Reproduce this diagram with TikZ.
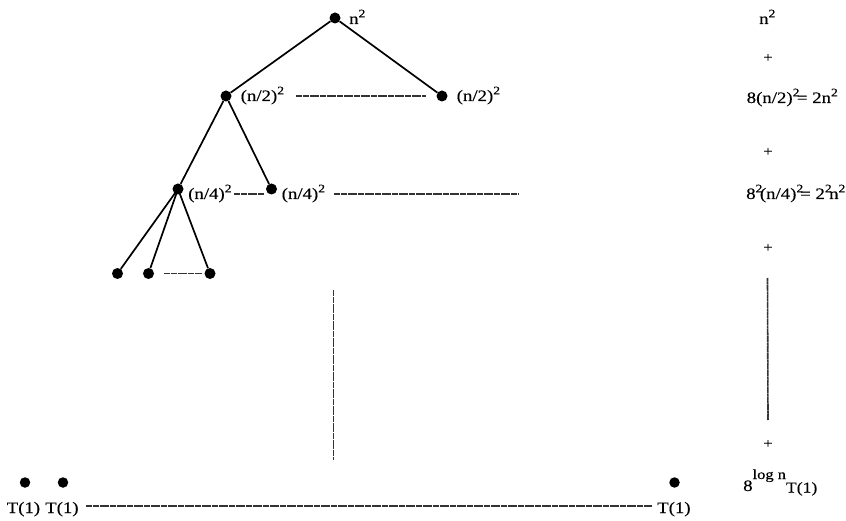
\documentclass[tikz,border=0pt]{standalone}
\usepackage{fontspec}
\setmainfont{Liberation Serif}[FakeStretch=1.18,FakeBold=0.3]
\newcommand\sq[1]{\raisebox{0.42em}{\fontsize{11.5}{11.5}\selectfont #1}}
\begin{document}
\begin{tikzpicture}[x=1bp,y=-1bp,
  dot/.style={circle,fill=black,inner sep=0pt,minimum size=11bp},
  sdot/.style={circle,fill=black,inner sep=0pt,minimum size=10.5bp},
  edge/.style={line width=1.7bp,black},
  dots/.style={line width=1.6bp,black!80,dash pattern=on 3bp off 0.4bp},
  lbl/.style={anchor=base west,inner sep=0pt,font=\fontsize{16}{16}\selectfont},
  plus/.style={inner sep=0pt,font=\fontsize{14}{14}\selectfont}]
\useasboundingbox (0,0) rectangle (846,521);

% recursion tree
\node[dot] (r)   at (335,18) {};
\node[dot] (a)   at (226,96) {};
\node[dot] (b)   at (442,96) {};
\node[dot] (c)   at (178,189) {};
\node[dot] (d)   at (271.5,189) {};
\node[dot] (l1)  at (117.5,273.5) {};
\node[dot] (l2)  at (148.5,273.5) {};
\node[dot] (l3)  at (210,273.5) {};
\draw[edge] (r) -- (a);
\draw[edge] (r) -- (b);
\draw[edge] (a) -- (c);
\draw[edge] (a) -- (d);
\draw[edge] (c.center) -- (l1);
\draw[edge] (c.center) -- (l2);
\draw[edge] (c.center) -- (l3);

% node costs
\node[lbl] (tr) at (349,24)    {n\sq{2}};
\node[lbl] (ta) at (240.5,101) {(n/2)\sq{2}};
\node[lbl] (tb) at (456.5,101) {(n/2)\sq{2}};
\node[lbl] (tc) at (188,199)   {(n/4)\sq{2}};
\node[lbl] (td) at (281.5,199) {(n/4)\sq{2}};

% elided siblings
\coordinate (ab1) at (296,96);  \coordinate (ab2) at (426,96);
\coordinate (cd1) at (234,194); \coordinate (cd2) at (264,194);
\coordinate (dx1) at (334,194); \coordinate (dx2) at (519,194);
\coordinate (ll1) at (164,273.5); \coordinate (ll2) at (202,273.5);
\draw[dots] (ab1) -- (ab2);
\draw[dots] (cd1) -- (cd2);
\draw[dots] (dx1) -- (dx2);
\draw[dots] (ll1) -- (ll2);

% depth of the tree
\coordinate (v1) at (333.5,290); \coordinate (v2) at (333.5,460);
\draw[dots] (v1) -- (v2);

% leaves
\node[sdot] (f1) at (25,482.5) {};
\node[sdot] (f2) at (63,482.5) {};
\node[sdot] (f3) at (674.5,482.5) {};
\node[lbl] (g1) at (6.5,513) {T(1)};
\node[lbl] (g2) at (45,513)  {T(1)};
\node[lbl] (g3) at (657,513) {T(1)};
\coordinate (h1) at (86,506); \coordinate (h2) at (652,506);
\draw[dots] (h1) -- (h2);

% cost per level
\node[lbl] (s0) at (759,24)    {n\sq{2}};
\node[plus] (p1) at (768,58)   {+};
\node[lbl] (s1) at (746.5,103) {8(n/2)\sq{2}\kern-2.5bp= 2n\sq{2}};
\node[plus] (p2) at (768,152)  {+};
\node[lbl] (s2) at (746,199) {8\sq{2}\kern-2.5bp(n/4)\sq{2}\kern-3bp= 2\sq{2}\kern-2.5bp n\sq{2}};
\node[plus] (p3) at (768,248)  {+};
\coordinate (w1) at (767.5,278); \coordinate (w2) at (768,420);
\draw[dots] (w1) -- (w2);
\node[plus] (p4) at (768,444)  {+};
\node[lbl] (s3) at (743,491)
  {8\raisebox{12bp}{\fontsize{14}{14}\selectfont log n}\raisebox{-1.5bp}{\fontsize{15}{15}\selectfont T(1)}};
\end{tikzpicture}
\end{document}
